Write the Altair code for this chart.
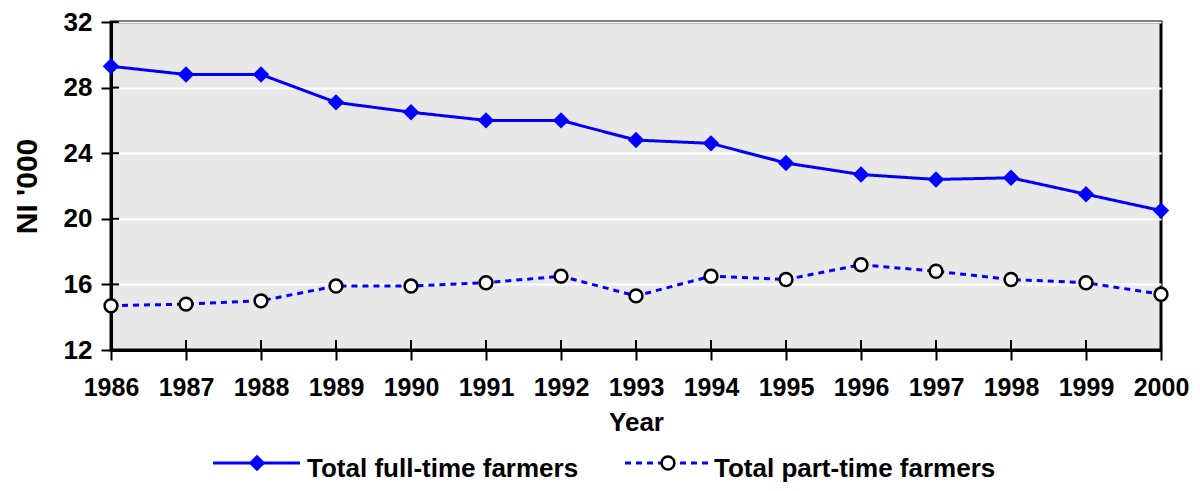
import altair as alt
import pandas as pd

years = list(range(1986, 2001))
full_time = [29.3, 28.8, 28.8, 27.1, 26.5, 26.0, 26.0, 24.8, 24.6, 23.4, 22.7, 22.4, 22.5, 21.5, 20.5]
part_time = [14.7, 14.8, 15.0, 15.9, 15.9, 16.1, 16.5, 15.3, 16.5, 16.3, 17.2, 16.8, 16.3, 16.1, 15.4]
series = ["Total full-time farmers", "Total part-time farmers"]
y_ticks = [12, 16, 20, 24, 28, 32]

df = pd.DataFrame({
    "Year": years * 2,
    "Value": full_time + part_time,
    "Series": [series[0]] * len(years) + [series[1]] * len(years),
})
tick_df = pd.DataFrame({"Value": y_ticks})
year_df = pd.DataFrame({"Year": years})
legend_df = pd.DataFrame({"Series": series})

W, H = 1050, 328
FONT = "Liberation Sans"
BLUE = "#0000ff"

x = alt.X(
    "Year:Q",
    scale=alt.Scale(domain=[1986, 2000], nice=False, zero=False),
    axis=alt.Axis(values=years, format="d", title="Year", grid=False,
                  labelOverlap=False, labelFlush=False,
                  labelPadding=15, titlePadding=9, labelFontSize=25, titleFontSize=26),
)
y = alt.Y(
    "Value:Q",
    scale=alt.Scale(domain=[12, 32], nice=False, zero=False),
    axis=alt.Axis(values=y_ticks, title="NI '000", grid=True, gridColor="white",
                  labelOverlap=False, labelFlush=False,
                  gridWidth=2, labelPadding=9, titlePadding=21,
                  labelFontSize=26, titleFontSize=30),
)

lines = alt.Chart(df).mark_line(color=BLUE, strokeWidth=3).encode(
    x=x, y=y,
    strokeDash=alt.StrokeDash("Series:N", scale=alt.Scale(domain=series, range=[[1, 0], [6, 5]]), legend=None),
)

full_pts = alt.Chart(df).transform_filter(alt.datum.Series == series[0]).mark_point(
    shape="diamond", filled=True, color=BLUE, size=270, opacity=1
).encode(x=x, y=y)

part_pts = alt.Chart(df).transform_filter(alt.datum.Series == series[1]).mark_point(
    shape="circle", filled=True, fill="white", stroke="black", strokeWidth=2.5, size=165, opacity=1
).encode(x=x, y=y)

x_inner = alt.Chart(year_df).mark_rule(color="black", strokeWidth=2).encode(
    x=x, y=alt.value(H), y2=alt.value(H - 10)
)
y_inner = alt.Chart(tick_df).mark_rule(color="black", strokeWidth=2).encode(
    y=y, x=alt.value(0), x2=alt.value(8)
)

LY = 441
TY = 455
leg_line1 = alt.Chart(legend_df).transform_filter(alt.datum.Series == series[0]).mark_rule(
    color=BLUE, strokeWidth=3).encode(x=alt.value(102), x2=alt.value(189), y=alt.value(LY))
leg_pt1 = alt.Chart(legend_df).transform_filter(alt.datum.Series == series[0]).mark_point(
    shape="diamond", filled=True, color=BLUE, size=270, opacity=1).encode(x=alt.value(146), y=alt.value(LY))
leg_txt1 = alt.Chart(legend_df).transform_filter(alt.datum.Series == series[0]).mark_text(
    align="left", baseline="alphabetic", font=FONT, fontSize=26, fontWeight="bold", color="black"
).encode(x=alt.value(196), y=alt.value(TY), text="Series:N")

leg_line2 = alt.Chart(legend_df).transform_filter(alt.datum.Series == series[1]).mark_rule(
    color=BLUE, strokeWidth=3, strokeDash=[6, 5]).encode(x=alt.value(514), x2=alt.value(599), y=alt.value(LY))
leg_pt2 = alt.Chart(legend_df).transform_filter(alt.datum.Series == series[1]).mark_point(
    shape="circle", filled=True, fill="white", stroke="black", strokeWidth=2.5, size=165, opacity=1
).encode(x=alt.value(557), y=alt.value(LY))
leg_txt2 = alt.Chart(legend_df).transform_filter(alt.datum.Series == series[1]).mark_text(
    align="left", baseline="alphabetic", font=FONT, fontSize=26, fontWeight="bold", color="black"
).encode(x=alt.value(603), y=alt.value(TY), text="Series:N")

chart = alt.layer(
    lines, x_inner, y_inner, full_pts, part_pts,
    leg_line1, leg_line2, leg_pt1, leg_pt2, leg_txt1, leg_txt2,
).properties(
    width=W, height=H,
    autosize=alt.AutoSizeParams(type="none"),
    padding={"left": 103, "top": 14, "right": 31, "bottom": 133},
).configure_view(
    fill="#e8e8e8", stroke="black", strokeWidth=3,
).configure_axis(
    domainColor="black", domainWidth=3, tickColor="black", tickWidth=2, tickSize=10,
    labelFont=FONT, labelFontWeight="bold", labelColor="black",
    titleFont=FONT, titleFontWeight="bold", titleColor="black",
)

chart.save("out.html", embed_options={"renderer": "svg", "actions": False})
